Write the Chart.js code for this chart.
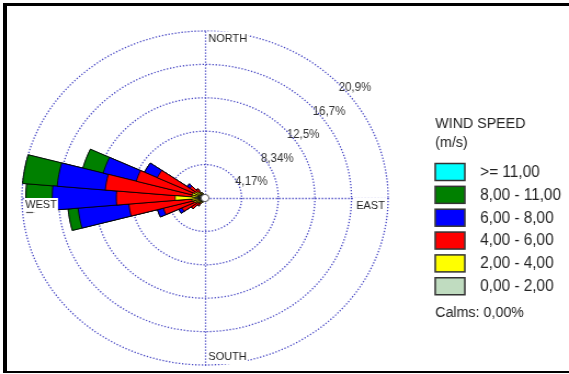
<!DOCTYPE html>
<html>
<head>
<meta charset="utf-8">
<script src="https://cdn.jsdelivr.net/npm/chart.js@4.4.1/dist/chart.umd.min.js"></script>
<style>
  html, body { margin: 0; padding: 0; background: #fff; }
  #page { position: relative; width: 569px; height: 374px; overflow: hidden; background: #fff; }
  #stretch { position: absolute; left: 0; top: 0; width: 519px; height: 374px;
             transform: scaleX(1.0963); transform-origin: 0 0; }
  #frame { position: absolute; left: 3px; top: 3px; width: 620px; height: 370px; box-sizing: border-box;
           border-left: 4px solid #000; border-top: 3px solid #000; border-bottom: 2px solid #000; }
</style>
</head>
<body>
<div id="page">
  <div id="stretch"><canvas id="rose" width="519" height="374"></canvas></div>
  <div id="frame"></div>
</div>
<script>
// Wind directions: 36 sectors of 10 degrees, clockwise from north
const directions = Array.from({ length: 36 }, (_, i) => String(i * 10));

// Speed classes (m/s), slowest first
const speedClasses = ['0,00 - 2,00', '2,00 - 4,00', '4,00 - 6,00', '6,00 - 8,00', '8,00 - 11,00', '>= 11,00'];
const classColors  = ['#c0dcc0', '#ffff00', '#ff0000', '#0000ff', '#008000', '#00ffff'];

// Frequency (% of time) per direction sector for each speed class
//                 0    10   20   30   40   50   60   70   80   90  100  110  120  130  140  150  160  170  180  190  200  210  220  230  240  250  260  270  280  290  300  310  320  330  340  350
const f0to2   = [  0,   0,   0,   0,   0,   0,   0,   0,   0,   0,   0,   0,   0,   0,   0,   0,   0,   0,   0,   0,   0, 0.3, 0.3, 0.4, 0.5, 0.6, 0.7, 1.1, 0.8, 0.8, 0.6, 0.5, 0.4, 0.3,   0,   0];
const f2to4   = [  0,   0,   0,   0,   0,   0,   0,   0,   0,   0,   0,   0,   0,   0,   0,   0,   0,   0,   0,   0,   0, 0.3, 0.5, 0.5, 0.6, 0.7, 0.8, 2.3, 0.7, 0.7, 0.7, 0.6, 0.5, 0.4,   0,   0];
const f4to6   = [  0,   0,   0,   0,   0,   0,   0,   0,   0,   0,   0,   0,   0,   0,   0,   0,   0,   0,   0,   0,   0,   0, 0.4, 1.0, 1.8, 3.6, 7.2, 6.7, 9.9, 6.6, 4.7, 1.0, 0.5,   0,   0,   0];
const f6to8   = [  0,   0,   0,   0,   0,   0,   0,   0,   0,   0,   0,   0,   0,   0,   0,   0,   0,   0,   0,   0,   0,   0,   0,   0, 0.4, 0.7, 5.8, 7.3, 5.5, 3.9, 1.6, 0.4,   0,   0,   0,   0];
const f8to11  = [  0,   0,   0,   0,   0,   0,   0,   0,   0,   0,   0,   0,   0,   0,   0,   0,   0,   0,   0,   0,   0,   0,   0,   0,   0,   0,1.15, 3.0,3.95, 2.4,   0,   0,   0,   0,   0,   0];
const f11up   = [  0,   0,   0,   0,   0,   0,   0,   0,   0,   0,   0,   0,   0,   0,   0,   0,   0,   0,   0,   0,   0,   0,   0,   0,   0,   0,   0,   0,   0,   0,   0,   0,   0,   0,   0,   0];

// Rings of the radial scale and their captions
const ringTicks  = [4.17, 8.34, 12.51, 16.68, 20.85];
const ringLabels = ['4,17%', '8,34%', '12,5%', '16,7%', '20,9%'];
const compassLabels = { north: 'NORTH', east: 'EAST', south: 'SOUTH', west: 'WEST' };
const legendTitle = ['WIND SPEED', '(m/s)'];
const calmsText = 'Calms: 0,00%';

const classFreqs = [f0to2, f2to4, f4to6, f6to8, f8to11, f11up];

// Stack the classes: each dataset reaches the cumulative total up to its class.
const cumulative = [];
classFreqs.forEach((arr, k) => {
  cumulative.push(arr.map((v, i) => v + (k ? cumulative[k - 1][i] : 0)));
});

const GRID = 'rgb(72,72,196)';
const FONT = '"Liberation Sans", Arial, sans-serif';
const TEXT_SY = 1.18; // glyphs are drawn a little taller than wide

function dotted(ctx, x1, y1, x2, y2) {
  ctx.save();
  ctx.strokeStyle = GRID;
  ctx.lineWidth = 1.3;
  ctx.setLineDash([1.3, 1.7]);
  ctx.beginPath();
  ctx.moveTo(x1, y1);
  ctx.lineTo(x2, y2);
  ctx.stroke();
  ctx.restore();
}

function tallText(ctx, text, x, y) {
  ctx.save();
  ctx.translate(x, y);
  ctx.scale(1, TEXT_SY);
  ctx.textBaseline = 'middle';
  ctx.fillText(text, 0, 0);
  ctx.restore();
}

function boxedText(ctx, text, x, y, align) {
  ctx.save();
  ctx.font = '10px ' + FONT;
  const w = ctx.measureText(text).width;
  const left = align === 'right' ? x - w : x;
  ctx.fillStyle = '#fff';
  ctx.fillRect(left - 1, y - 7, w + 2, 14);
  ctx.fillStyle = '#222';
  tallText(ctx, text, left, y);
  ctx.restore();
}

const roseDecor = {
  id: 'roseDecor',
  beforeDatasetsDraw(chart) {
    const s = chart.scales.r, ctx = chart.ctx;
    const cx = s.xCenter + 0.5, cy = s.yCenter + 0.5, R = s.drawingArea;
    dotted(ctx, cx, cy - R, cx, cy + R);
    dotted(ctx, cx - R, cy, cx + R, cy);
  },
  afterDatasetsDraw(chart) {
    const s = chart.scales.r, ctx = chart.ctx;
    const cx = s.xCenter, cy = s.yCenter, R = s.drawingArea;

    // hub
    ctx.save();
    ctx.beginPath();
    ctx.arc(cx, cy, 3.6, 0, Math.PI * 2);
    ctx.fillStyle = '#fff';
    ctx.fill();
    ctx.lineWidth = 1;
    ctx.strokeStyle = '#555';
    ctx.stroke();
    ctx.restore();

    // compass captions
    boxedText(ctx, compassLabels.north, cx + 3, cy - R + 7.5, 'left');
    boxedText(ctx, compassLabels.south, cx + 3, cy + R - 8, 'left');
    ctx.save();
    ctx.fillStyle = '#fff';
    ctx.fillRect(cx + R - 32, cy - 0.5, 30, 15);
    ctx.restore();
    boxedText(ctx, compassLabels.east, cx + R - 3, cy + 8, 'right');
    boxedText(ctx, compassLabels.west, cx - R + 3, cy + 7, 'left');
    ctx.save();
    ctx.strokeStyle = '#555';
    ctx.lineWidth = 1.2;
    ctx.beginPath();
    ctx.moveTo(cx - R + 4, cy + 14.5);
    ctx.lineTo(cx - R + 10, cy + 14.5);
    ctx.stroke();
    ctx.restore();

    // ring captions along the north-east diagonal
    ctx.save();
    ctx.font = '10.5px ' + FONT;
    ctx.fillStyle = '#333';
    ringTicks.forEach((v, i) => {
      const d = s.getDistanceFromCenterForValue(v) / Math.SQRT2;
      tallText(ctx, ringLabels[i], cx + d + 3.8, cy - d + 7.6);
    });
    ctx.restore();

    // legend
    const lx = 397;
    ctx.save();
    ctx.fillStyle = '#222';
    ctx.font = '13px ' + FONT;
    tallText(ctx, legendTitle[0], lx, 124);
    tallText(ctx, legendTitle[1], lx, 143);
    ctx.font = '14px ' + FONT;
    const order = chart.data.datasets.map((d, k) => k).reverse();
    order.forEach((k, i) => {
      const ds = chart.data.datasets[k];
      const y = 163.5 + i * 22.85;
      ctx.fillStyle = ds.backgroundColor;
      ctx.fillRect(lx, y, 27, 17);
      ctx.strokeStyle = '#333';
      ctx.lineWidth = 1.5;
      ctx.strokeRect(lx, y, 27, 17);
      ctx.fillStyle = '#222';
      tallText(ctx, ds.label, 438, y + 8.8);
    });
    ctx.font = '13px ' + FONT;
    tallText(ctx, calmsText, lx, 312.5);
    ctx.restore();
  }
};

new Chart(document.getElementById('rose'), {
  type: 'polarArea',
  data: {
    labels: directions,
    datasets: speedClasses.map((label, k) => ({
      label,
      data: cumulative[k],
      backgroundColor: classColors[k],
      borderColor: '#000',
      borderWidth: 0.8
    }))
  },
  options: {
    responsive: false,
    animation: false,
    events: [],
    layout: { padding: { left: 20, top: 31, right: 165, bottom: 9 } },
    plugins: { legend: { display: false }, tooltip: { enabled: false } },
    scales: {
      r: {
        min: 0,
        max: 20.85,
        startAngle: -5,
        afterBuildTicks: s => { s.ticks = [0, ...ringTicks].map(value => ({ value })); },
        ticks: { display: false },
        grid: { circular: true, color: GRID, lineWidth: 1.3 },
        border: { dash: [1.3, 1.7] },
        angleLines: { display: false },
        pointLabels: { display: false }
      }
    }
  },
  plugins: [roseDecor]
});
</script>
</body>
</html>
